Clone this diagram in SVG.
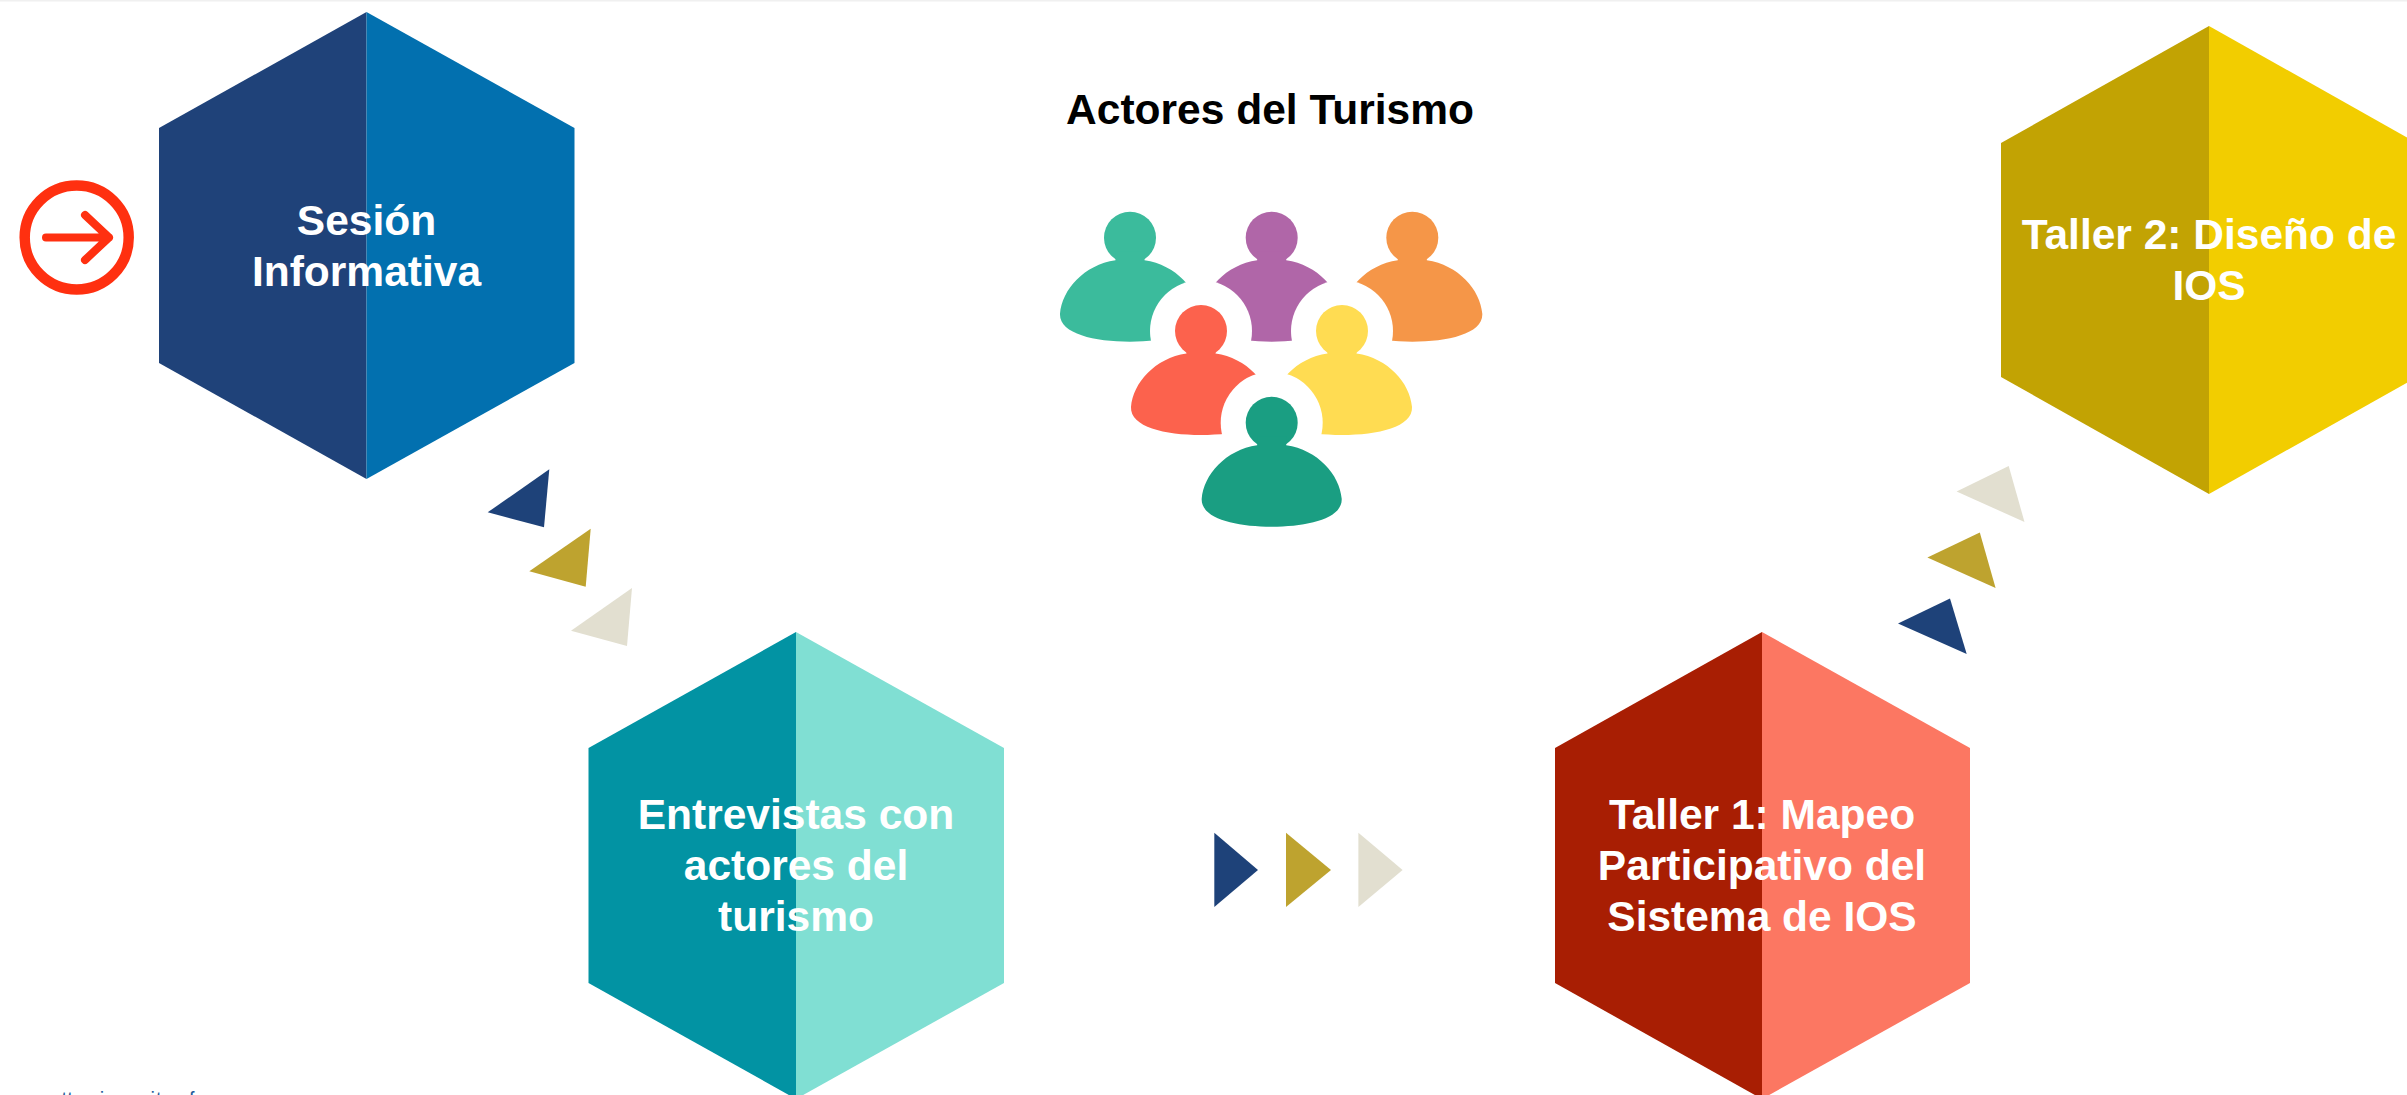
<svg xmlns="http://www.w3.org/2000/svg" xmlns:xlink="http://www.w3.org/1999/xlink" width="2407" height="1095" viewBox="0 0 2407 1095">
<style>
text{font-family:"Liberation Sans",Arial,sans-serif;font-weight:700;text-anchor:middle}
.lbl{font-size:42.5px;fill:#fff}
.ttl{font-size:42.5px;fill:#000}
.blue{fill:#1e4279}.gold{fill:#bea32f}.beige{fill:#e2dfd0}
.halo{fill:#fff}
.src{font-size:20px;fill:#1f5c99;text-anchor:start;font-weight:400}
</style>
<defs>
<g id="person"><circle cx="0" cy="0" r="26"/><path d="M-14.5,14H14.5V22.5C46,27 68,52 70,76C71,96 36,104 0,104C-36,104 -71,96 -70,76C-68,52 -46,27 -14.5,22.5Z"/></g>
</defs>
<rect width="2407" height="1095" fill="#fff"/>
<rect width="2407" height="1.5" fill="#f0f0f0"/>
<g id="start">
<circle cx="76.7" cy="237.5" r="52" fill="none" stroke="#ff3010" stroke-width="10.5"/>
<path d="M46,237.5H109M85,215L109,237.5L85,260" fill="none" stroke="#ff3010" stroke-width="8" stroke-linecap="round" stroke-linejoin="round"/>
</g>
<g id="connectors">
<polygon class="blue" points="487.7,512.3 549.3,469.3 544,527.3"/>
<polygon class="gold" points="529.3,571.3 590.7,528.7 585.7,586.7"/>
<polygon class="beige" points="571,630.7 632,588 627,646"/>
<polygon class="blue" points="1214.3,832.7 1258,870 1214.3,907"/>
<polygon class="gold" points="1286,832.7 1331,870 1286,907"/>
<polygon class="beige" points="1358.4,832.7 1402.6,870 1358.4,907"/>
<polygon class="blue" points="1898,623.5 1950,598.5 1966.7,654"/>
<polygon class="gold" points="1927.4,557.5 1979.8,532.5 1995.6,588"/>
<polygon class="beige" points="1956.6,491.5 2008.7,466 2024.5,522"/>
</g>
<g id="node-sesion">
<polygon fill="#1f4279" points="366.5,12 159,128 159,363 366.5,479"/>
<polygon fill="#0270af" points="366.5,12 574.5,128 574.5,363 366.5,479"/>
<text class="lbl" x="366.5" y="235">Sesión</text>
<text class="lbl" x="366.5" y="286">Informativa</text>
</g>
<g id="node-entrevistas">
<polygon fill="#0293a3" points="796,632 588.5,748 588.5,983 796,1099"/>
<polygon fill="#80dfd3" points="796,632 1004,748 1004,983 796,1099"/>
<text class="lbl" x="796" y="829">Entrevistas con</text>
<text class="lbl" x="796" y="880">actores del</text>
<text class="lbl" x="796" y="931">turismo</text>
</g>
<g id="node-taller1">
<polygon fill="#a81e03" points="1762,632 1555,748 1555,983 1762,1099"/>
<polygon fill="#fc7762" points="1762,632 1970,748 1970,983 1762,1099"/>
<text class="lbl" x="1762" y="829">Taller 1: Mapeo</text>
<text class="lbl" x="1762" y="880">Participativo del</text>
<text class="lbl" x="1762" y="931">Sistema de IOS</text>
</g>
<g id="node-taller2">
<polygon fill="#c2a303" points="2209,26 2001,143 2001,377 2209,494"/>
<polygon fill="#f2cd00" points="2209,26 2417,143 2417,377 2209,494"/>
<text class="lbl" x="2209" y="249">Taller 2: Diseño de</text>
<text class="lbl" x="2209" y="300">IOS</text>
</g>
<g id="node-actores">
<text class="ttl" x="1270" y="124">Actores del Turismo</text>
<use xlink:href="#person" href="#person" x="1130" y="237.7" fill="#3bbb9c"/>
<use xlink:href="#person" href="#person" x="1271.7" y="237.7" fill="#b066a8"/>
<use xlink:href="#person" href="#person" x="1412.3" y="237.7" fill="#f59648"/>
<circle class="halo" cx="1201" cy="331" r="51"/>
<circle class="halo" cx="1342" cy="331" r="51"/>
<use xlink:href="#person" href="#person" x="1201" y="331" fill="#fc624d"/>
<use xlink:href="#person" href="#person" x="1342" y="331" fill="#ffdc52"/>
<circle class="halo" cx="1271.7" cy="422.7" r="51"/>
<use xlink:href="#person" href="#person" x="1271.7" y="422.7" fill="#1a9e82"/>
</g>
<text class="src" x="61.5 67.2 99.8 150.5 156 189" y="1105.5">ttiitf</text>
</svg>
